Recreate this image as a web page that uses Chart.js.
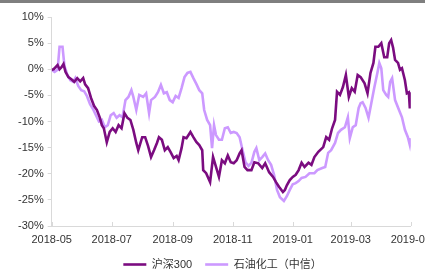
<!DOCTYPE html>
<html>
<head>
<meta charset="utf-8">
<script src="https://cdn.jsdelivr.net/npm/chart.js@4.4.0/dist/chart.umd.min.js"></script>
<style>
  html, body { margin: 0; padding: 0; background: #fff; }
  #wrap { position: relative; width: 425px; height: 270px; overflow: hidden; }
  #topBar { position: absolute; left: 0; top: 0; width: 425px; height: 3px; background: #7f7f7f; }
  canvas { display: block; }
</style>
</head>
<body>
<div id="wrap">
  <canvas id="myChart" width="438" height="280"></canvas>
  <div id="topBar"></div>
</div>
<script>
// x values are days counted from 2018-05-01
const hsDays = [0, 2, 4, 6, 8, 10, 12, 14, 17, 20, 23, 26, 29, 32, 34, 37, 40, 43, 46, 49, 51, 53, 56, 59, 62, 65, 68, 71, 74, 77, 80, 83, 86, 88, 92, 95, 98, 101, 104, 107, 109, 112, 115, 118, 121, 124, 127, 129, 132, 134, 137, 141, 144, 147, 150, 153, 154, 157, 161, 164, 167, 170, 173, 176, 179, 182, 185, 188, 191, 193, 196, 199, 203, 206, 210, 214, 217, 221, 225, 228, 231, 235, 237, 239, 242, 245, 248, 251, 254, 257, 261, 264, 267, 271, 276, 279, 282, 285, 288, 290, 293, 296, 299, 302, 305, 308, 311, 314, 318, 321, 324, 327, 329, 332, 335, 338, 341, 343, 345, 347, 349, 352, 354, 356, 359, 361, 363, 364, 365];
const hsValues = [-0.1, 0.0, 0.4, 0.8, 0.0, 0.4, 1.0, -0.5, -1.5, -1.9, -2.4, -1.7, -2.3, -1.7, -2.9, -3.6, -5.5, -7.0, -7.8, -9.3, -10.7, -11.3, -14.0, -12.0, -11.3, -12.0, -10.7, -11.3, -8.4, -9.3, -9.7, -11.6, -14.1, -15.5, -13.0, -13.0, -14.7, -16.8, -15.5, -14.1, -13.0, -13.5, -15.5, -14.9, -15.9, -17.0, -16.6, -17.4, -15.1, -13.0, -13.2, -12.0, -13.0, -13.9, -14.5, -15.5, -19.3, -19.9, -21.6, -16.8, -18.7, -20.6, -17.4, -18.0, -16.5, -17.8, -18.0, -17.4, -16.1, -15.5, -18.7, -19.3, -19.3, -17.8, -18.0, -18.9, -18.0, -19.7, -20.6, -21.6, -22.5, -23.5, -23.1, -22.2, -21.2, -20.6, -20.2, -19.3, -17.9, -18.7, -17.9, -18.3, -16.8, -15.8, -14.9, -13.0, -13.5, -11.3, -9.7, -4.3, -4.9, -3.4, -1.1, -5.3, -3.6, -4.3, -1.1, -1.5, -2.7, -4.6, -0.7, 1.2, 4.3, 4.3, 5.0, 2.3, 2.3, 5.0, 5.6, 4.1, 1.8, 1.2, -0.1, 0.2, -2.1, -4.6, -4.4, -7.5, -4.4];

const shDays = [0, 3, 6, 8, 11, 13, 16, 19, 22, 24, 27, 30, 33, 36, 39, 42, 45, 48, 51, 54, 57, 60, 63, 66, 69, 72, 75, 78, 81, 83, 86, 89, 93, 96, 99, 101, 105, 108, 111, 114, 117, 120, 123, 126, 129, 132, 135, 138, 141, 144, 147, 150, 153, 155, 158, 161, 163, 165, 167, 170, 173, 176, 179, 182, 185, 188, 191, 194, 197, 200, 203, 206, 208, 211, 214, 217, 220, 223, 226, 229, 232, 236, 239, 242, 245, 248, 251, 254, 258, 262, 267, 270, 275, 278, 281, 284, 288, 291, 294, 298, 301, 303, 306, 309, 312, 314, 316, 319, 322, 324, 328, 331, 333, 335, 337, 340, 342, 344, 346, 349, 353, 356, 359, 362, 364, 365];
const shValues = [-0.1, -0.5, -0.1, 4.3, 4.3, 0.6, -1.1, -2.1, -2.4, -1.7, -3.2, -4.0, -4.2, -5.2, -6.7, -7.6, -8.8, -10.0, -9.7, -11.1, -10.7, -8.8, -8.4, -9.3, -8.8, -9.2, -5.9, -5.3, -4.0, -5.3, -7.8, -4.9, -5.3, -4.6, -8.4, -5.9, -5.3, -4.4, -3.0, -4.6, -4.4, -5.9, -6.3, -5.1, -5.5, -3.6, -1.5, -0.7, -0.5, -1.7, -2.8, -4.0, -4.6, -7.8, -9.7, -10.7, -15.1, -10.7, -12.6, -13.5, -13.5, -11.3, -11.1, -12.2, -12.0, -12.2, -13.0, -15.5, -17.8, -18.5, -17.9, -15.8, -15.1, -17.4, -16.8, -16.1, -17.4, -18.3, -20.2, -23.1, -24.5, -25.2, -24.3, -23.1, -22.0, -21.8, -21.4, -20.8, -20.6, -19.9, -19.9, -19.3, -18.9, -18.7, -16.0, -15.5, -14.1, -12.2, -11.6, -11.1, -9.2, -13.2, -11.1, -10.7, -7.4, -6.5, -6.3, -7.4, -9.3, -7.3, -3.4, -0.7, 1.2, 0.2, -4.0, -4.9, -5.3, -2.4, -1.7, -5.9, -7.8, -9.2, -11.6, -13.0, -14.5, -13.2];

const seriesNames = ['沪深300', '石油化工（中信）'];
const tickDays = [0, 61, 123, 184, 245, 304, 365];
const tickLabels = ['2018-05', '2018-07', '2018-09', '2018-11', '2019-01', '2019-03', '2019-05'];

const axisColor = '#d9d9d9';

function toPoints(days, values) {
    return days.map(function(d, i) { return { x: d, y: values[i] }; });
}

// short tick marks on the x axis that point up into the plot
const innerTicks = {
    id: 'innerTicks',
    afterLayout(chart) {
        // nudge the legend a little to the right, like the original
        if (chart.legend) {
            chart.legend.left += 10;
            chart.legend.right += 10;
        }
    },
    afterDraw(chart) {
        const xs = chart.scales.x;
        const ctx = chart.ctx;
        const bottom = chart.chartArea.bottom;
        ctx.save();
        ctx.strokeStyle = axisColor;
        ctx.lineWidth = 1;
        tickDays.forEach(function(d) {
            const px = Math.round(xs.getPixelForValue(d)) + 0.5;
            ctx.beginPath();
            ctx.moveTo(px, bottom);
            ctx.lineTo(px, bottom - 4);
            ctx.stroke();
        });
        ctx.restore();
    }
};

function initializeChart() {
    const ctx = document.getElementById('myChart').getContext('2d');
    Chart.defaults.font.family = '"Liberation Sans", Arial, "Noto Sans CJK SC", sans-serif';
    Chart.defaults.font.size = 11;
    Chart.defaults.color = '#333333';

    new Chart(ctx, {
        type: 'line',
        data: {
            datasets: [{
                label: seriesNames[0],
                data: toPoints(hsDays, hsValues),
                borderColor: '#7b0c80',
                backgroundColor: '#7b0c80',
                borderWidth: 2.6,
                pointRadius: 0,
                tension: 0
            }, {
                label: seriesNames[1],
                data: toPoints(shDays, shValues),
                borderColor: '#cc99ff',
                backgroundColor: '#cc99ff',
                borderWidth: 2.6,
                pointRadius: 0,
                tension: 0
            }]
        },
        options: {
            responsive: false,
            animation: false,
            layout: { padding: { left: 14, right: 27, top: 17, bottom: 0 } },
            scales: {
                x: {
                    type: 'linear',
                    min: 0,
                    max: 365,
                    afterBuildTicks: function(scale) {
                        scale.ticks = tickDays.map(function(d) { return { value: d }; });
                    },
                    afterFit: function(scale) { scale.height = 20; },
                    ticks: {
                        autoSkip: false,
                        maxRotation: 0,
                        padding: 7,
                        callback: function(value) {
                            const i = tickDays.indexOf(value);
                            return i >= 0 ? tickLabels[i] : '';
                        }
                    },
                    grid: { drawOnChartArea: false, drawTicks: false },
                    border: { color: axisColor }
                },
                y: {
                    min: -30,
                    max: 10,
                    ticks: {
                        stepSize: 5,
                        padding: 4,
                        callback: function(value) { return value + '%'; }
                    },
                    grid: { drawOnChartArea: false, drawTicks: true, tickLength: 4, color: axisColor },
                    border: { color: axisColor }
                }
            },
            plugins: {
                legend: {
                    position: 'bottom',
                    labels: {
                        usePointStyle: true,
                        pointStyle: 'line',
                        pointStyleWidth: 23,
                        padding: 13,
                        color: '#333333',
                        font: { size: 11 }
                    }
                },
                tooltip: { enabled: false }
            }
        },
        plugins: [innerTicks]
    });
}

initializeChart();
</script>
</body>
</html>
